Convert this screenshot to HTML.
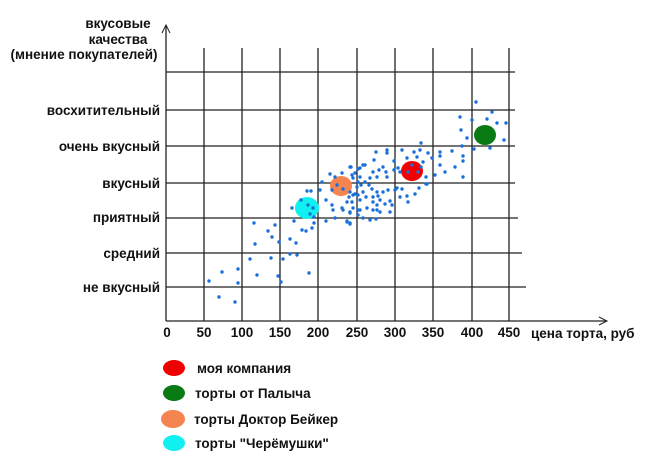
<!DOCTYPE html>
<html><head><meta charset="utf-8"><style>
body{margin:0;background:#fff;width:672px;height:460px;overflow:hidden}
svg{display:block}
text{font-family:"Liberation Sans",sans-serif;font-weight:bold;font-size:13.5px;fill:#111}
</style></head><body>
<svg id="s" width="672" height="460" viewBox="0 0 672 460">
<g stroke="#222" stroke-width="1.3">
<line x1="204" y1="48" x2="204" y2="321"/><line x1="242" y1="48" x2="242" y2="321"/>
<line x1="280" y1="48" x2="280" y2="321"/><line x1="318" y1="48" x2="318" y2="321"/>
<line x1="357" y1="48" x2="357" y2="321"/><line x1="395" y1="48" x2="395" y2="321"/>
<line x1="433" y1="48" x2="433" y2="321"/><line x1="472" y1="48" x2="472" y2="321"/>
<line x1="509" y1="48" x2="509" y2="321"/>
<line x1="166" y1="72" x2="515" y2="72"/><line x1="166" y1="110" x2="515" y2="110"/>
<line x1="166" y1="146" x2="515" y2="146"/><line x1="166" y1="183" x2="515" y2="183"/>
<line x1="166" y1="218" x2="518" y2="218"/><line x1="166" y1="253" x2="522" y2="253"/>
<line x1="166" y1="287" x2="526" y2="287"/>
<line x1="166" y1="25" x2="166" y2="321"/><line x1="166" y1="321" x2="607" y2="321"/>
</g>
<g stroke="#222" stroke-width="1" fill="none">
<polyline points="162,33 166,25 170,33"/><polyline points="599,317 607,321 599,325"/>
</g>
<ellipse cx="485" cy="135" rx="11" ry="10" fill="#0a7a14"/>
<ellipse cx="412" cy="171" rx="11" ry="10" fill="#f00000"/>
<ellipse cx="341" cy="186" rx="11" ry="10" fill="#f58550"/>
<ellipse cx="307" cy="208" rx="12" ry="11" fill="#10f0f0"/>
<g id="dots" fill="#1a6fd8"></g>
<g text-anchor="end">
<text x="160" y="115">восхитительный</text><text x="160" y="151">очень вкусный</text>
<text x="160" y="188">вкусный</text><text x="160" y="222">приятный</text>
<text x="160" y="258">средний</text><text x="160" y="292">не вкусный</text>
</g>
<g text-anchor="middle">
<text x="118" y="28">вкусовые</text><text x="118" y="44">качества</text><text x="84" y="59">(мнение покупателей)</text>
</g>
<g text-anchor="middle">
<text x="167" y="337">0</text><text x="204" y="337">50</text><text x="242" y="337">100</text>
<text x="280" y="337">150</text><text x="318" y="337">200</text><text x="357" y="337">250</text>
<text x="395" y="337">300</text><text x="433" y="337">350</text><text x="472" y="337">400</text>
<text x="509" y="337">450</text>
</g>
<text x="531" y="338">цена торта, руб</text>
<ellipse cx="174" cy="368" rx="11" ry="8" fill="#f00000"/>
<ellipse cx="174" cy="393" rx="11" ry="8" fill="#0a7a14"/>
<ellipse cx="173" cy="419" rx="12" ry="9" fill="#f58550"/>
<ellipse cx="174" cy="443" rx="11" ry="8" fill="#10f0f0"/>
<text x="197" y="373">моя компания</text>
<text x="195" y="398">торты от Палыча</text>
<text x="194" y="424">торты Доктор Бейкер</text>
<text x="195" y="448">торты "Черёмушки"</text>
</svg>
<script>
var p=[209,281,219,297,235,302,222,272,238,283,238,269,250,259,257,275,255,244,254,223,268,231,272,237,275,225,279,242,278,276,281,282,271,258,283,259,290,239,296,243,290,254,297,255,309,273,292,208,294,221,302,230,306,231,312,228,314,223,314,217,301,200,307,191,311,191,308,205,313,208,310,214,322,182,320,190,326,200,326,221,332,205,333,210,335,218,330,174,342,208,347,221,350,223,350,212,352,202,349,197,355,194,358,210,357,187,360,200,335,177,342,173,352,175,350,167,358,169,363,165,361,185,332,190,337,185,343,189,
476,102,492,112,460,117,487,119,497,123,506,123,472,120,461,130,467,138,504,140,490,148,474,149,462,146,421,143,463,156,463,161,463,177,455,167,452,151,445,172,440,152,440,156,440,165,435,175,432,158,428,153,426,177,427,184,423,162,420,150,421,167,417,157,414,152,407,158,402,150,398,168,394,161,394,170,387,150,387,153,386,172,387,177,383,167,379,170,377,177,376,152,374,160,373,172,370,178,369,185,365,165,360,168,360,177,358,182,355,173,351,167,353,178,350,192,353,195,358,195,365,182,363,192,366,197,372,189,373,197,377,192,378,196,373,202,377,205,380,200,383,192,388,190,390,201,385,204,395,190,397,188,402,189,400,197,407,196,408,202,415,194,419,188,426,184,373,210,377,210,380,212,367,208,360,210,353,208,350,213,347,202,343,210,363,218,370,220,376,219,358,215,347,222,350,224,390,212,392,205,400,172,408,172,418,172,412,165];
var h='';for(var i=0;i<p.length;i+=2)h+='<circle cx="'+p[i]+'" cy="'+p[i+1]+'" r="1.7"/>';
document.getElementById('dots').innerHTML=h;
</script>
</body></html>
